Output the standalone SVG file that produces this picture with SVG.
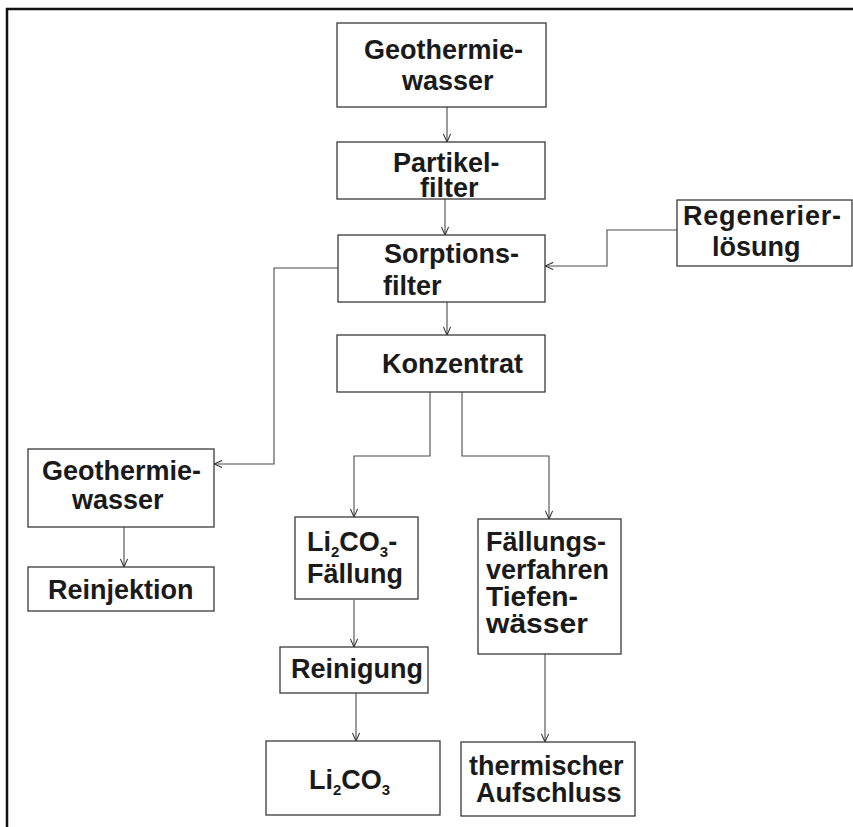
<svg xmlns="http://www.w3.org/2000/svg" width="853" height="827" viewBox="0 0 853 827">
  <style>
    .box { fill: #ffffff; stroke: #3a3a3a; stroke-width: 1.3; }
    .lbl { font-family: "Liberation Sans", Arial, sans-serif; font-weight: bold; font-size: 27px; fill: #1a1a1a; }
    .sub { font-size: 15px; }
    .wire { fill: none; stroke: #4a4a4a; stroke-width: 1.1; marker-end: url(#arr); }
    .frame { fill: none; stroke: #111111; stroke-width: 2.5; }
  </style>
  <defs>
    <marker id="arr" viewBox="0 0 10 10" refX="10" refY="5" markerWidth="9" markerHeight="9" markerUnits="userSpaceOnUse" orient="auto">
      <path d="M1,1 L10,5 L1,9" fill="none" stroke="#333333" stroke-width="1.2"/>
    </marker>
  </defs>
  <rect width="853" height="827" fill="#ffffff"/>

  <!-- page frame: top and left edges only -->
  <path class="frame" d="M7,827 V9 H853"/>

  <!-- connectors -->
  <g id="connectors">
    <path class="wire" d="M447,107 V142"/>
    <path class="wire" d="M445,199 V235"/>
    <path class="wire" d="M677,230 H607 V266 H545"/>
    <path class="wire" d="M338,268 H274 V464 H214"/>
    <path class="wire" d="M447,302 V335"/>
    <path class="wire" d="M430,392 V456 H354 V517"/>
    <path class="wire" d="M462,392 V456 H549 V519"/>
    <path class="wire" d="M124,527 V567"/>
    <path class="wire" d="M354,600 V647"/>
    <path class="wire" d="M356,693 V741"/>
    <path class="wire" d="M545,654 V742"/>
  </g>

  <g id="geothermie-top">
    <rect class="box" x="337" y="23" width="209" height="84"/>
    <text class="lbl" x="364" y="59">Geothermie-</text>
    <text class="lbl" x="402" y="90">wasser</text>
  </g>
  <g id="partikelfilter">
    <rect class="box" x="337" y="142" width="208" height="57"/>
    <text class="lbl" x="393" y="172">Partikel-</text>
    <text class="lbl" x="420" y="197">filter</text>
  </g>
  <g id="sorptionsfilter">
    <rect class="box" x="338" y="235" width="207" height="67"/>
    <text class="lbl" x="384" y="263">Sorptions-</text>
    <text class="lbl" x="383" y="295">filter</text>
  </g>
  <g id="regenerierloesung">
    <rect class="box" x="677" y="200" width="175" height="66"/>
    <text class="lbl" x="683" y="225" textLength="158" lengthAdjust="spacing">Regenerier-</text>
    <text class="lbl" x="712" y="256">lösung</text>
  </g>
  <g id="konzentrat">
    <rect class="box" x="337" y="335" width="208" height="57"/>
    <text class="lbl" x="382" y="373">Konzentrat</text>
  </g>
  <g id="geothermie-rueck">
    <rect class="box" x="28" y="449" width="186" height="78"/>
    <text class="lbl" x="42" y="480">Geothermie-</text>
    <text class="lbl" x="72" y="509">wasser</text>
  </g>
  <g id="reinjektion">
    <rect class="box" x="28" y="567" width="186" height="44"/>
    <text class="lbl" x="48" y="599" font-size="25">Reinjektion</text>
  </g>
  <g id="li2co3-faellung">
    <rect class="box" x="295" y="517" width="123" height="82"/>
    <text class="lbl" x="307" y="551">Li<tspan class="sub" dy="6">2</tspan><tspan dy="-6">CO</tspan><tspan class="sub" dy="6">3</tspan><tspan dy="-6">-</tspan></text>
    <text class="lbl" x="307" y="583">Fällung</text>
  </g>
  <g id="reinigung">
    <rect class="box" x="280" y="647" width="148" height="46"/>
    <text class="lbl" x="291" y="678" font-size="25">Reinigung</text>
  </g>
  <g id="li2co3">
    <rect class="box" x="266" y="741" width="174" height="74"/>
    <text class="lbl" x="309" y="789">Li<tspan class="sub" dy="6">2</tspan><tspan dy="-6">CO</tspan><tspan class="sub" dy="6">3</tspan></text>
  </g>
  <g id="faellungsverfahren">
    <rect class="box" x="478" y="519" width="143" height="135"/>
    <text class="lbl" x="486" y="551">Fällungs-</text>
    <text class="lbl" x="486" y="579">verfahren</text>
    <text class="lbl" x="486" y="606" textLength="92" lengthAdjust="spacingAndGlyphs">Tiefen-</text>
    <text class="lbl" x="486" y="633" textLength="102" lengthAdjust="spacingAndGlyphs">wässer</text>
  </g>
  <g id="thermischer-aufschluss">
    <rect class="box" x="461" y="742" width="174" height="74"/>
    <text class="lbl" x="469" y="775" font-size="28">thermischer</text>
    <text class="lbl" x="476" y="802" font-size="28">Aufschluss</text>
  </g>
</svg>
